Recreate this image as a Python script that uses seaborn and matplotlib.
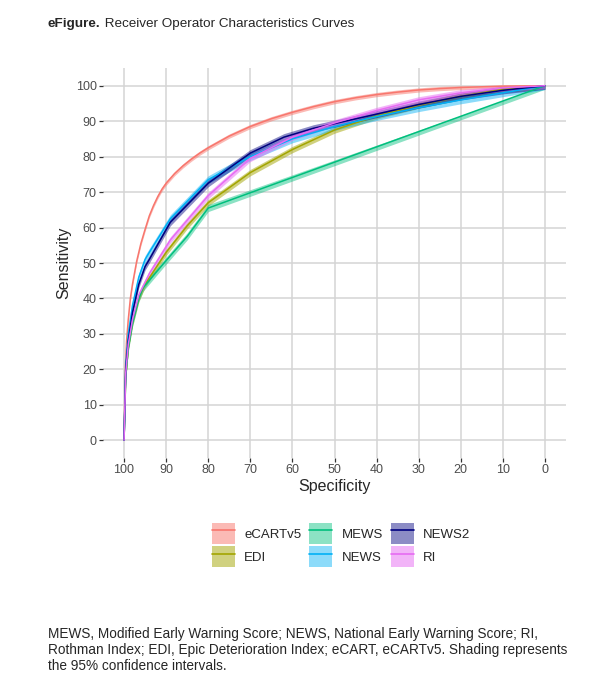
import pandas as pd
import seaborn as sns
import matplotlib.pyplot as plt
from matplotlib.patches import Patch
from matplotlib.lines import Line2D
from matplotlib.legend_handler import HandlerTuple

# ROC curves (specificity, sensitivity in %)
ecart_spec = [100, 99.7, 99.4, 99, 98.5, 98, 97, 96, 95, 94, 93, 92, 91, 90, 88, 86, 84, 82, 80,
              75, 70, 65, 60, 55, 50, 45, 40, 35, 30, 25, 20, 10, 0]
ecart_sens = [0, 20, 28, 34, 40, 44, 50.5, 55.5, 59.5, 63.3, 66.2, 68.7, 70.8, 72.5, 75.2, 77.4, 79.3, 81, 82.5,
              85.8, 88.5, 90.7, 92.5, 94.1, 95.5, 96.6, 97.5, 98.2, 98.8, 99.2, 99.5, 99.9, 100]

edi_spec = [100, 99.6, 99, 98, 96.5, 95, 90, 85, 80, 70, 60, 50, 40, 30, 20, 10, 0]
edi_sens = [0, 18, 26, 33, 40, 44, 53, 60.5, 67, 75.5, 82, 87.5, 91.5, 94.5, 97, 99, 100]

mews_spec = [100, 99.6, 99, 98, 96.5, 95.5, 90.5, 85, 80, 0]
mews_sens = [0, 18, 26, 33, 40, 43, 50, 57.5, 65.5, 100]

news_spec = [100, 99.6, 99, 98, 96.5, 95, 94, 89, 80, 70, 60, 50, 40, 30, 20, 10, 0]
news_sens = [0, 21, 30, 38, 46, 51, 53, 62.5, 73.5, 80, 85, 88.5, 91.3, 93.8, 96, 98, 100]

news2_spec = [100, 99.6, 99, 98, 96.5, 95, 94, 89, 80, 70, 62, 55, 50, 40, 30, 20, 10, 0]
news2_sens = [0, 20, 28, 36, 44, 49, 51, 61.5, 72.5, 81, 85.5, 88, 89.3, 92, 94.7, 97, 98.7, 100]

ri_spec = [100, 99.6, 99, 98, 96.5, 94, 89, 80, 70, 60, 50, 40, 30, 20, 10, 0]
ri_sens = [0, 19, 27, 34, 41, 47, 56.5, 69, 79.5, 85.5, 89.5, 93, 96, 98, 99.4, 100]

# half width of the 95% CI band (sensitivity points)
ci_half = {'eCARTv5': 0.6, 'EDI': 0.9, 'MEWS': 1.0, 'NEWS': 1.1, 'NEWS2': 1.0, 'RI': 0.9}

models = ['eCARTv5', 'EDI', 'MEWS', 'NEWS', 'NEWS2', 'RI']
curves = {
    'eCARTv5': (ecart_spec, ecart_sens),
    'EDI': (edi_spec, edi_sens),
    'MEWS': (mews_spec, mews_sens),
    'NEWS': (news_spec, news_sens),
    'NEWS2': (news2_spec, news2_sens),
    'RI': (ri_spec, ri_sens),
}
line_colors = {'eCARTv5': '#F8766D', 'EDI': '#A3A500', 'MEWS': '#00BF7D',
               'NEWS': '#00B0F6', 'NEWS2': '#000080', 'RI': '#E76BF3'}
fill_alpha = {'eCARTv5': 0.5, 'EDI': 0.5, 'MEWS': 0.45, 'NEWS': 0.45, 'NEWS2': 0.45, 'RI': 0.5}

rows = []
for m in models:
    sp, se = curves[m]
    for a, b in zip(sp, se):
        rows.append({'model': m, 'spec': a, 'sens': b})
df = pd.DataFrame(rows)

sns.set_style('white')
plt.rcParams['font.family'] = ['Liberation Sans', 'DejaVu Sans']

fig = plt.figure(figsize=(5.93, 6.80), dpi=100)
ax = fig.add_axes([103 / 593, 1 - 458 / 680, 463 / 593, 390 / 680])

# confidence ribbons
for m in models:
    sub = df[df['model'] == m]
    h = ci_half[m]
    ax.fill_between(sub['spec'], (sub['sens'] - h).clip(lower=0), (sub['sens'] + h).clip(upper=100),
                    color=line_colors[m], alpha=fill_alpha[m], linewidth=0, zorder=2)

sns.lineplot(data=df, x='spec', y='sens', hue='model', hue_order=models, palette=line_colors,
             sort=False, estimator=None, linewidth=1.1, legend=False, ax=ax, zorder=3)

ax.set_xlim(105, -5)
ax.set_ylim(-5, 105)
ax.set_xticks(range(100, -1, -10))
ax.set_yticks(range(0, 101, 10))
ax.grid(True, color='#D4D4D4', linewidth=1.1)
ax.set_axisbelow(True)
for s in ax.spines.values():
    s.set_visible(False)
ax.tick_params(axis='both', length=3, width=0.9, color='#333333', labelcolor='#4D4D4D',
               labelsize=9, pad=1.5, left=True, bottom=True)
ax.set_xlabel('Specificity', fontsize=11.5, labelpad=2)
ax.set_ylabel('Sensitivity', fontsize=11.5, labelpad=3)

# legend: filled key with line on top, like the ribbons
handles = [(Patch(facecolor=line_colors[m], alpha=fill_alpha[m], edgecolor='none'),
            Line2D([], [], color=line_colors[m], linewidth=1.2)) for m in models]
fig.legend(handles, models, handler_map={tuple: HandlerTuple(ndivide=1)},
           loc='center', bbox_to_anchor=(341 / 593, 1 - 545 / 680), ncol=3, frameon=False,
           fontsize=9.5, handlelength=1.75, handleheight=2.0, handletextpad=0.7,
           columnspacing=0.6, labelspacing=0.2, borderpad=0)

t1 = fig.text(48 / 593, 1 - 27 / 680, 'eFigure.', fontsize=9.7, fontweight='bold', va='baseline')
ax.annotate(' Receiver Operator Characteristics Curves', xy=(1, 0), xycoords=t1,
            fontsize=9.7, va='bottom', ha='left', annotation_clip=False)

note = ('MEWS, Modified Early Warning Score; NEWS, National Early Warning Score; RI,\n'
        'Rothman Index; EDI, Epic Deterioration Index; eCART, eCARTv5. Shading represents\n'
        'the 95% confidence intervals.')
fig.text(48 / 593, 1 - 627 / 680, note, fontsize=9.8, va='top', linespacing=1.18)

fig.savefig('out.png', dpi=100)
